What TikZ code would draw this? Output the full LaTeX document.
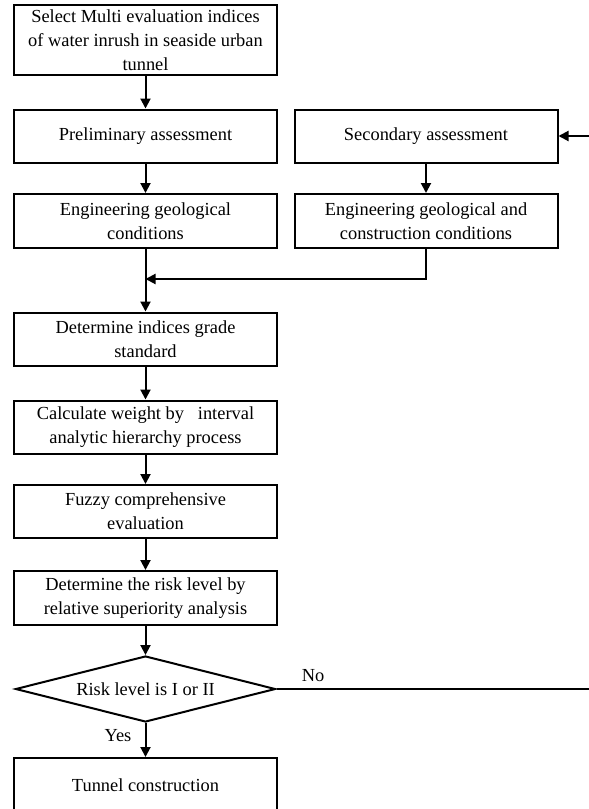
\documentclass[tikz,border=0pt]{standalone}
\usepackage{fontspec}
\setmainfont{Liberation Serif}
\usetikzlibrary{shapes.geometric,arrows.meta}

\begin{document}
\begin{tikzpicture}[x=0.5pt,y=-0.5pt,
  txt/.style={font=\fontsize{9.2}{12}\selectfont},
  box/.style={txt,draw,line width=1pt,minimum width=131.5pt,minimum height=26.5pt,align=center,inner sep=1pt},
  flow/.style={line width=1pt,-{Triangle[length=5pt,width=5pt]}}]
  \useasboundingbox (0,0) rectangle (589,809);
  \clip (0,0) rectangle (589,809);
  \node[box,minimum height=35pt] (sel) at (145.5,40) {Select Multi evaluation indices\\of water inrush in seaside urban\\tunnel};
  \node[box] (pre) at (145.5,136) {Preliminary assessment};
  \node[box] (sec) at (426,136) {Secondary assessment};
  \node[box,minimum height=27pt] (engL) at (145.5,221) {Engineering geological\\conditions};
  \node[box,minimum height=27pt] (engR) at (426,221) {Engineering geological and\\construction conditions};
  \node[box] (det) at (145.5,339) {Determine indices grade\\standard};
  \node[box] (calc) at (145.5,427) {Calculate weight by\ \ \ interval\\analytic hierarchy process};
  \node[box] (fuz) at (145.5,511.5) {Fuzzy comprehensive\\evaluation};
  \node[box,minimum height=27pt] (risk) at (145.5,598) {Determine the risk level by\\relative superiority analysis};
  \node[txt,draw,diamond,line width=1pt,minimum width=130pt,minimum height=33pt,inner sep=0pt,aspect=4] (dec) at (145.5,689) {Risk level is I or II};
  \node[box,minimum height=27pt] (tun) at (145.5,785) {Tunnel construction};
  \node[txt] (no) at (313,676) {No};
  \node[txt] (yes) at (118,736) {Yes};
  \coordinate (join) at (145.5,279);
  \coordinate (back) at (600,689);
  \draw[flow] (sel) -- (pre);
  \draw[flow] (pre) -- (engL);
  \draw[flow] (sec) -- (engR);
  \draw[flow] (engL) -- (det);
  \draw[flow] (engR.south) |- (join);
  \draw[flow] (det) -- (calc);
  \draw[flow] (calc) -- (fuz);
  \draw[flow] (fuz) -- (risk);
  \draw[flow] (risk) -- (dec);
  \draw[flow] (dec) -- (tun);
  \draw[flow] (dec.east) -- (back) |- (sec.east);
\end{tikzpicture}
\end{document}
